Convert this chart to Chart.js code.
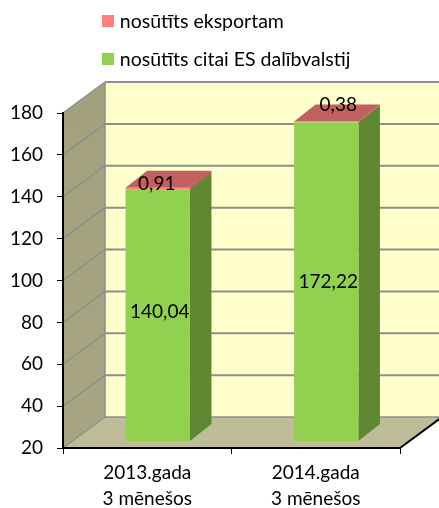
<!DOCTYPE html>
<html>
<head>
<meta charset="utf-8">
<style>
  html, body { margin: 0; padding: 0; background: #fff; }
  canvas { display: block; }
</style>
<script src="https://cdn.jsdelivr.net/npm/chart.js@4/dist/chart.umd.js"></script>
</head>
<body>
<canvas id="chart" width="439" height="508"></canvas>
<script>
const categories = [['2013.gada', '3 mēnešos'], ['2014.gada', '3 mēnešos']]
const citaiEs = [140.04, 172.22]
const eksportam = [0.91, 0.38]
const seriesNames = ['nosūtīts citai ES dalībvalstij', 'nosūtīts eksportam']
const axisMin = 20
const axisMax = 180
const axisStep = 20

const FONT = 'Lato, Carlito, Calibri, sans-serif'
const WALL = { dx: 42, dy: -31 }
const BAR_SHIFT = { x: 10.5, y: -7 }
const BAR_DEPTH = { dx: 21.5, dy: -17 }
// hand placed value labels, same as in the original: [dx, dy] per dataset and bar
const labelNudge = [
  [[2, -3], [2, 0]],
  [[-1, -4], [12, -17]]
]

function poly(ctx, pts, fill) {
  ctx.beginPath()
  pts.forEach((p, i) => i ? ctx.lineTo(p[0], p[1]) : ctx.moveTo(p[0], p[1]))
  ctx.closePath()
  ctx.fillStyle = fill
  ctx.fill()
}

function line(ctx, x1, y1, x2, y2, color, width) {
  ctx.beginPath()
  ctx.moveTo(x1, y1)
  ctx.lineTo(x2, y2)
  ctx.strokeStyle = color
  ctx.lineWidth = width
  ctx.stroke()
}

function swatch(color) {
  const c = document.createElement('canvas')
  c.width = 12
  c.height = 12
  const g = c.getContext('2d')
  g.fillStyle = color
  g.fillRect(0, 0, 12, 12)
  return c
}

const box3d = {
  id: 'box3d',
  afterLayout(chart) {
    chart.legend.left = 87.5
    chart.legend.top = -7
  },
  beforeDraw(chart) {
    const { ctx, chartArea: a } = chart
    const { dx, dy } = WALL
    ctx.save()
    poly(ctx, [[a.left + dx, a.top + dy], [a.right + dx, a.top + dy], [a.right + dx, a.bottom + dy], [a.left + dx, a.bottom + dy]], '#FFFFCC')
    const side = ctx.createLinearGradient(0, a.top + dy, 0, a.bottom)
    side.addColorStop(0, '#A3A07E')
    side.addColorStop(1, '#A8A583')
    poly(ctx, [[a.left, a.top], [a.left + dx, a.top + dy], [a.left + dx, a.bottom + dy], [a.left, a.bottom]], side)
    poly(ctx, [[a.left, a.bottom], [a.left + dx, a.bottom + dy], [a.right + dx, a.bottom + dy], [a.right, a.bottom]], '#BFBD98')
    chart.scales.y.ticks.forEach(t => {
      const y = chart.scales.y.getPixelForValue(t.value)
      line(ctx, a.left, y, a.left + dx, y + dy, '#8E8E8E', 1.5)
      if (t.value > axisMin) line(ctx, a.left + dx, y + dy, a.right + dx, y + dy, '#8E8E8E', 2)
    })
    line(ctx, a.left + dx, a.top + dy, a.left + dx, a.bottom + dy, '#8E8E8E', 1.5)
    line(ctx, a.left + dx, a.bottom + dy, a.right + dx, a.bottom + dy, '#8E8E8E', 1.5)
    line(ctx, a.right, a.bottom, a.right + dx, a.bottom + dy, '#000', 2)
    ctx.restore()
  },
  beforeDatasetsDraw(chart) {
    const { ctx, chartArea: a } = chart
    const { dx, dy } = BAR_DEPTH
    const floor = a.bottom + BAR_SHIFT.y
    const low = chart.getDatasetMeta(0).data
    const high = chart.getDatasetMeta(1).data
    ctx.save()
    ctx.translate(BAR_SHIFT.x, 0)
    low.forEach((bar, i) => {
      const r = bar.x + bar.width / 2
      const l = bar.x - bar.width / 2
      const yLow = bar.y + BAR_SHIFT.y
      const yTop = high[i].y + BAR_SHIFT.y
      poly(ctx, [[r, floor], [r + dx, floor + dy], [r + dx, yLow + dy], [r, yLow]], '#5F8630')
      poly(ctx, [[r, yLow], [r + dx, yLow + dy], [r + dx, yTop + dy], [r, yTop]], '#984C4B')
      poly(ctx, [[l, yTop], [l + dx, yTop + dy], [r + dx, yTop + dy], [r, yTop]], '#C0605F')
    })
    ctx.restore()
    ctx.save()
    ctx.translate(BAR_SHIFT.x, BAR_SHIFT.y)
  },
  afterDatasetsDraw(chart) {
    const { ctx } = chart
    ctx.restore()
    ctx.save()
    ctx.font = '19px ' + FONT
    ctx.fillStyle = '#000'
    ctx.textAlign = 'center'
    ctx.textBaseline = 'middle'
    chart.data.datasets.forEach((ds, d) => {
      chart.getDatasetMeta(d).data.forEach((bar, i) => {
        const text = String(ds.data[i]).replace('.', ',')
        const [nx, ny] = labelNudge[d][i]
        let y = bar.y + BAR_SHIFT.y
        if (d === 0) y = (y + chart.chartArea.bottom + BAR_SHIFT.y) / 2
        ctx.fillText(text, bar.x + BAR_SHIFT.x + nx, y + ny)
      })
    })
    ctx.restore()
  }
}

new Chart(document.getElementById('chart'), {
  type: 'bar',
  plugins: [box3d],
  data: {
    labels: categories,
    datasets: [
      { label: seriesNames[0], data: citaiEs, backgroundColor: '#92D050' },
      { label: seriesNames[1], data: eksportam, backgroundColor: '#FF8080' }
    ]
  },
  options: {
    responsive: false,
    animation: false,
    barPercentage: 0.382,
    categoryPercentage: 1,
    layout: { padding: { top: 27, right: 39, left: 0, bottom: 0 } },
    plugins: {
      tooltip: { enabled: false },
      legend: {
        position: 'top',
        align: 'start',
        reverse: true,
        labels: {
          usePointStyle: true,
          boxWidth: 4,
          padding: 18.5,
          color: '#000',
          font: { family: FONT, size: 19.5 },
          generateLabels: chart => Chart.defaults.plugins.legend.labels.generateLabels(chart)
            .map(item => ({ ...item, pointStyle: swatch(item.fillStyle) }))
        }
      }
    },
    scales: {
      x: {
        stacked: true,
        afterFit: s => { s.height = 60 },
        grid: { drawOnChartArea: false, color: '#000', tickLength: 6 },
        border: { color: '#000', width: 2 },
        ticks: { color: '#000', font: { family: FONT, size: 19, lineHeight: 1.37 }, padding: 6, maxRotation: 0 }
      },
      y: {
        stacked: true,
        min: axisMin,
        max: axisMax,
        afterFit: s => { s.width = 63 },
        grid: { drawOnChartArea: false, color: '#000', tickLength: 6 },
        border: { color: '#000', width: 2 },
        ticks: { stepSize: axisStep, color: '#000', font: { family: FONT, size: 19 }, padding: 14 }
      }
    }
  }
})
</script>
</body>
</html>
